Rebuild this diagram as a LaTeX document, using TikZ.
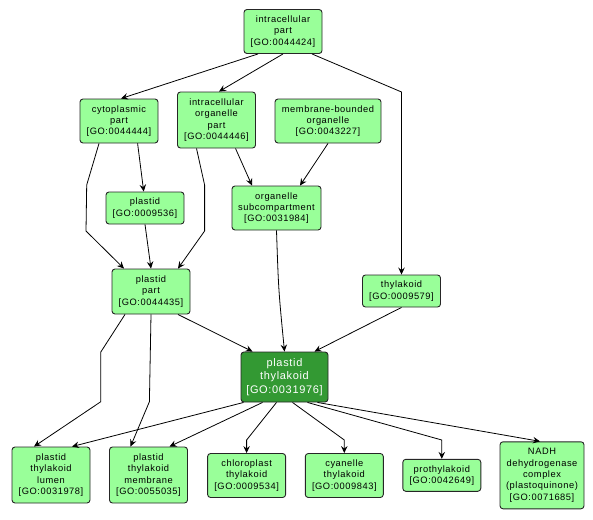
\documentclass[tikz,border=0pt]{standalone}
\usepackage{fontspec}
\setmainfont[LetterSpace=6]{Liberation Sans}
\usetikzlibrary{arrows.meta}
\definecolor{lightgo}{RGB}{153,255,153}
\definecolor{darkgo}{RGB}{51,153,51}
\begin{document}
\begin{tikzpicture}[x=1pt,y=-1pt,
  term/.style={draw=black!85,line width=0.9pt,fill=lightgo,rounded corners=3pt,
    align=center,inner sep=0pt,font=\fontsize{9.3}{11.3}\selectfont,text=black},
  focus/.style={term,fill=darkgo,text=white,font=\fontsize{11}{13.3}\selectfont},
  arr/.style={draw=black,line width=0.8pt,-{Stealth[length=7pt,width=6.5pt,inset=2.5pt]}}]
\useasboundingbox (0,0) rectangle (593,519);
\node[term,minimum width=78pt,minimum height=44pt] (ip) at (283,31.5) {intracellular\\part\\{[}GO:0044424{]}};
\node[term,minimum width=78pt,minimum height=44pt] (cp) at (119,121) {cytoplasmic\\part\\{[}GO:0044444{]}};
\node[term,minimum width=78pt,minimum height=56pt] (iop) at (216.5,120) {intracellular\\organelle\\part\\{[}GO:0044446{]}};
\node[term,minimum width=106pt,minimum height=44pt] (mbo) at (328,121) {membrane-bounded\\organelle\\{[}GO:0043227{]}};
\node[term,minimum width=78pt,minimum height=32pt] (pl) at (145,208) {plastid\\{[}GO:0009536{]}};
\node[term,minimum width=89pt,minimum height=44pt] (os) at (276.5,208) {organelle\\subcompartment\\{[}GO:0031984{]}};
\node[term,minimum width=78pt,minimum height=45pt] (pp) at (151,291.5) {plastid\\part\\{[}GO:0044435{]}};
\node[term,minimum width=78pt,minimum height=32pt] (thy) at (401.5,291) {thylakoid\\{[}GO:0009579{]}};
\node[focus,minimum width=87pt,minimum height=50pt] (pt) at (284.5,377) {plastid\\thylakoid\\{[}GO:0031976{]}};
\node[term,minimum width=78pt,minimum height=56pt] (lum) at (51,475) {plastid\\thylakoid\\lumen\\{[}GO:0031978{]}};
\node[term,minimum width=78pt,minimum height=56pt] (mem) at (148.5,475) {plastid\\thylakoid\\membrane\\{[}GO:0055035{]}};
\node[term,minimum width=78pt,minimum height=44pt] (chl) at (246.6,475.5) {chloroplast\\thylakoid\\{[}GO:0009534{]}};
\node[term,minimum width=78pt,minimum height=44pt] (cya) at (344.3,475.5) {cyanelle\\thylakoid\\{[}GO:0009843{]}};
\node[term,minimum width=78pt,minimum height=32pt] (pro) at (441.8,475.3) {prothylakoid\\{[}GO:0042649{]}};
\node[term,minimum width=84pt,minimum height=67pt] (nadh) at (542,475.3) {NADH\\dehydrogenase\\complex\\(plastoquinone)\\{[}GO:0071685{]}};
% edges
\draw[arr] ([xshift=-25pt]ip.south) -- ([xshift=2pt]cp.north);
\draw[arr] (ip.south) -- ([xshift=2.5pt]iop.north);
\draw[arr] ([xshift=29pt]ip.south) -- (thy.north |- 0,92) -- (thy.north);
\draw[arr] ([xshift=-20pt]cp.south) -- (86.7,185) -- (86,231) -- ([xshift=-27pt]pp.north);
\draw[arr] ([xshift=18.6pt]cp.south) -- ([xshift=-1.3pt]pl.north);
\draw[arr] ([xshift=-20pt]iop.south) -- (204.6,185) -- (204.6,231) -- ([xshift=27pt]pp.north);
\draw[arr] ([xshift=19pt]iop.south) -- ([xshift=-24.5pt]os.north);
\draw[arr] (mbo.south) -- ([xshift=23.5pt]os.north);
\draw[arr] (pl.south) -- (pp.north);
\draw[arr] (os.south) .. controls (278.5,290) .. (pt.north);
\draw[arr] (thy.south) -- ([xshift=30pt]pt.north);
\draw[arr] ([xshift=27pt]pp.south) -- ([xshift=-32pt]pt.north);
\draw[arr] ([xshift=-26pt]pp.south) -- (100.8,352) -- (100.8,401.7) -- ([xshift=-17pt]lum.north);
\draw[arr] (pp.south) -- (149.4,401.7) -- ([xshift=-18pt]mem.north);
\draw[arr] ([xshift=-41pt]pt.south) -- ([xshift=21pt]lum.north);
\draw[arr] ([xshift=-22pt]pt.south) -- ([xshift=21pt]mem.north);
\draw[arr] ([xshift=-8pt]pt.south) -- (chl.north |- 0,440) -- (chl.north);
\draw[arr] ([xshift=8pt]pt.south) -- (cya.north |- 0,440) -- (cya.north);
\draw[arr] ([xshift=23pt]pt.south) -- (pro.north |- 0,440) -- (pro.north);
\draw[arr] ([xshift=33pt]pt.south) -- ([xshift=-2pt]nadh.north);
\end{tikzpicture}
\end{document}
